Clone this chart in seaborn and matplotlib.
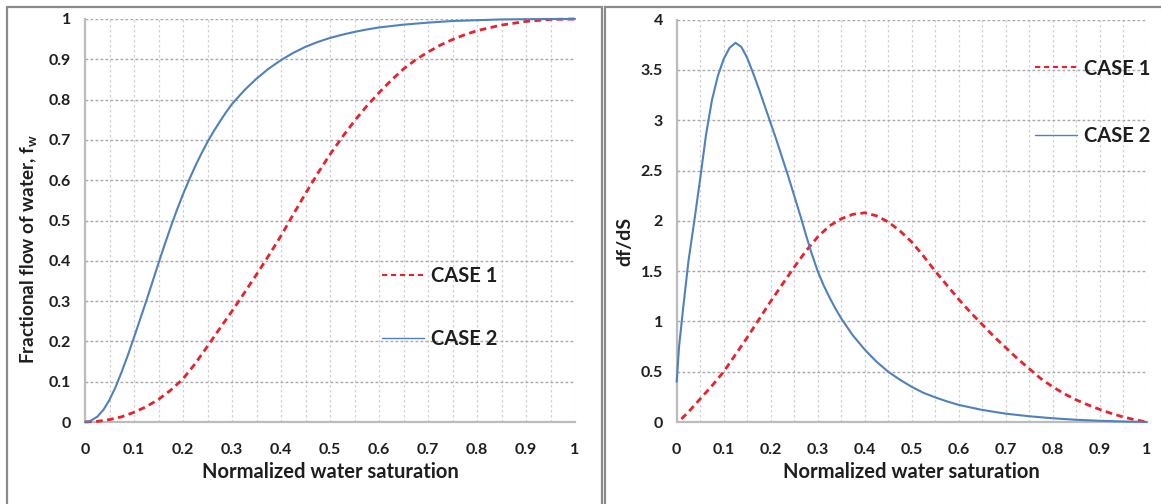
import numpy as np
import pandas as pd
import matplotlib
matplotlib.use("Agg")
import matplotlib.pyplot as plt
from matplotlib.lines import Line2D
import seaborn as sns

# ---------------- data ----------------
# Left panel: fractional flow of water, CASE 1
fw1_sw = [0, 0.025, 0.05, 0.075, 0.1, 0.125, 0.15, 0.175, 0.2, 0.225, 0.25, 0.275, 0.3,
          0.325, 0.35, 0.375, 0.4, 0.425, 0.45, 0.475, 0.5, 0.525, 0.55, 0.575, 0.6,
          0.625, 0.65, 0.675, 0.7, 0.725, 0.75, 0.775, 0.8, 0.85, 0.9, 0.95, 1.0]
fw1 = [0, 0.0015, 0.006, 0.013, 0.024, 0.038, 0.056, 0.079, 0.107, 0.145, 0.188, 0.232, 0.275,
       0.32, 0.366, 0.413, 0.462, 0.515, 0.567, 0.617, 0.664, 0.707, 0.747, 0.784, 0.817,
       0.848, 0.876, 0.899, 0.918, 0.935, 0.949, 0.961, 0.971, 0.985, 0.994, 0.999, 1.0]

# Left panel: fractional flow of water, CASE 2
fw2_sw = [0, 0.01, 0.025, 0.0375, 0.05, 0.0625, 0.075, 0.0875, 0.1, 0.1125, 0.125, 0.1375,
          0.15, 0.1625, 0.175, 0.1875, 0.2, 0.2125, 0.225, 0.2375, 0.25, 0.2625, 0.275,
          0.2875, 0.3, 0.325, 0.35, 0.375, 0.4, 0.425, 0.45, 0.475, 0.5, 0.525, 0.55, 0.575,
          0.6, 0.65, 0.7, 0.75, 0.8, 0.85, 0.9, 0.95, 1.0]
fw2 = [0, 0.002, 0.013, 0.03, 0.055, 0.087, 0.125, 0.166, 0.21, 0.255, 0.3, 0.347,
       0.394, 0.44, 0.484, 0.526, 0.565, 0.601, 0.635, 0.666, 0.695, 0.721, 0.745,
       0.768, 0.789, 0.823, 0.852, 0.877, 0.898, 0.916, 0.931, 0.943, 0.953, 0.961, 0.968, 0.974,
       0.979, 0.986, 0.991, 0.995, 0.997, 0.999, 0.9995, 1.0, 1.0]

# Right panel: df/dS, CASE 1
d1_sw = [0.01, 0.025, 0.05, 0.075, 0.1, 0.125, 0.15, 0.175, 0.2, 0.225, 0.25, 0.275, 0.3,
         0.325, 0.35, 0.375, 0.4, 0.425, 0.45, 0.475, 0.5, 0.525, 0.55, 0.575, 0.6, 0.625,
         0.65, 0.675, 0.7, 0.725, 0.75, 0.775, 0.8, 0.825, 0.85, 0.875, 0.9, 0.925, 0.95,
         0.975, 1.0]
d1 = [0.03, 0.1, 0.23, 0.36, 0.5, 0.67, 0.84, 1.02, 1.2, 1.37, 1.54, 1.7, 1.84,
      1.95, 2.02, 2.065, 2.08, 2.05, 1.99, 1.9, 1.79, 1.65, 1.5, 1.36, 1.22, 1.09,
      0.97, 0.85, 0.74, 0.63, 0.53, 0.43, 0.35, 0.28, 0.22, 0.17, 0.125, 0.085, 0.05,
      0.022, 0.0]

# Right panel: df/dS, CASE 2
d2_sw = [0, 0.005, 0.0125, 0.025, 0.0375, 0.05, 0.0625, 0.075, 0.0875, 0.1, 0.1125, 0.125,
         0.1375, 0.15, 0.1625, 0.175, 0.1875, 0.2, 0.2125, 0.225, 0.2375, 0.25, 0.2625,
         0.275, 0.2875, 0.3, 0.3125, 0.325, 0.3375, 0.35, 0.375, 0.4, 0.425, 0.45, 0.475,
         0.5, 0.525, 0.55, 0.575, 0.6, 0.65, 0.7, 0.75, 0.8, 0.85, 0.9, 0.95, 1.0]
d2 = [0.4, 0.75, 1.08, 1.6, 2.0, 2.42, 2.86, 3.2, 3.44, 3.61, 3.72, 3.77,
      3.73, 3.62, 3.47, 3.31, 3.14, 2.97, 2.8, 2.62, 2.44, 2.25, 2.06,
      1.86, 1.67, 1.5, 1.36, 1.24, 1.13, 1.03, 0.86, 0.72, 0.6, 0.5, 0.42,
      0.35, 0.29, 0.245, 0.205, 0.17, 0.12, 0.083, 0.057, 0.037, 0.022, 0.012, 0.005, 0.0]

series_labels = ["CASE 1", "CASE 2"]
x_ticks = [0, 0.1, 0.2, 0.3, 0.4, 0.5, 0.6, 0.7, 0.8, 0.9, 1]
x_ticklabels = ["0", "0.1", "0.2", "0.3", "0.4", "0.5", "0.6", "0.7", "0.8", "0.9", "1"]
y1_ticks = [0, 0.1, 0.2, 0.3, 0.4, 0.5, 0.6, 0.7, 0.8, 0.9, 1]
y1_ticklabels = ["0", "0.1", "0.2", "0.3", "0.4", "0.5", "0.6", "0.7", "0.8", "0.9", "1"]
y2_ticks = [0, 0.5, 1, 1.5, 2, 2.5, 3, 3.5, 4]
y2_ticklabels = ["0", "0.5", "1", "1.5", "2", "2.5", "3", "3.5", "4"]

# ---------------- style ----------------
sns.set_style("white")
plt.rcParams["font.family"] = ["Lato", "DejaVu Sans"]
plt.rcParams["font.weight"] = "bold"
plt.rcParams["mathtext.fontset"] = "custom"
plt.rcParams["mathtext.rm"] = "Lato:bold"
plt.rcParams["mathtext.it"] = "Lato:bold"
plt.rcParams["mathtext.bf"] = "Lato:bold"

RED = "#e8212b"
BLUE = "#4f81bd"
AXIS = "#bcbcbc"
GRID_H = "#a8a8a8"
GRID_V = "#d0d0d0"
TXT = "#1e1e1e"

W, H = 1161, 504
fig = plt.figure(figsize=(W / 100, H / 100), dpi=100)
fig.patch.set_facecolor("white")

# panel borders
border = dict(color="#8a8a8a", lw=1.6, transform=fig.transFigure, clip_on=False)
fig.add_artist(Line2D([7 / W, 602 / W], [1 - 6.5 / H] * 2, **border))
fig.add_artist(Line2D([7 / W, 7 / W], [0, 1 - 6.5 / H], **border))
fig.add_artist(Line2D([602 / W, 602 / W], [0, 1 - 6.5 / H], **border))
fig.add_artist(Line2D([605 / W, 1161 / W], [1 - 6.5 / H] * 2, **border))
fig.add_artist(Line2D([605 / W, 605 / W], [0, 1 - 6.5 / H], **border))

ax1 = fig.add_axes([85 / W, 82 / H, 490 / W, 403 / H])
ax2 = fig.add_axes([676.7 / W, 82 / H, 470 / W, 402.3 / H])

df_left1 = pd.DataFrame({"sw": fw1_sw, "v": fw1})
df_left2 = pd.DataFrame({"sw": fw2_sw, "v": fw2})
df_right1 = pd.DataFrame({"sw": d1_sw, "v": d1})
df_right2 = pd.DataFrame({"sw": d2_sw, "v": d2})

dash = (0, (2.4, 1.6))


def draw(ax, dfa, dfb):
    sns.lineplot(data=dfa, x="sw", y="v", ax=ax, color=RED, lw=2.0,
                 linestyle=dash, label=series_labels[0], clip_on=False, zorder=3)
    sns.lineplot(data=dfb, x="sw", y="v", ax=ax, color=BLUE, lw=1.5,
                 label=series_labels[1], clip_on=False, zorder=4)


draw(ax1, df_left1, df_left2)
draw(ax2, df_right1, df_right2)

for ax, yt, ytl, ymax in [(ax1, y1_ticks, y1_ticklabels, 1), (ax2, y2_ticks, y2_ticklabels, 4)]:
    ax.set_xlim(0, 1)
    ax.set_ylim(0, ymax)
    ax.set_xticks(x_ticks)
    ax.set_xticklabels(x_ticklabels)
    ax.set_xticks(np.arange(0, 1.001, 0.05), minor=True)
    ax.set_yticks(yt)
    ax.set_yticklabels(ytl)
    for s in ["top", "right"]:
        ax.spines[s].set_visible(False)
    for s in ["left", "bottom"]:
        ax.spines[s].set_color(AXIS)
        ax.spines[s].set_linewidth(1.6)
    ax.tick_params(axis="both", which="major", direction="out", length=5, width=1.2,
                   color=AXIS, labelsize=11.5, labelcolor=TXT)
    ax.tick_params(axis="x", which="major", pad=10)
    ax.tick_params(axis="y", which="major", pad=5)
    ax.tick_params(axis="x", which="minor", length=0)
    ax.grid(False)
    ax.grid(True, axis="x", which="both", color=GRID_V, linestyle=(0, (2, 2)), lw=0.9)
    ax.grid(True, axis="y", which="major", color=GRID_H, linestyle=(0, (2, 1.6)), lw=1.0)
    ax.set_axisbelow(True)
    for lab in ax.get_xticklabels() + ax.get_yticklabels():
        lab.set_fontweight("bold")
    ax.set_xlabel("Normalized water saturation", fontsize=14.5, fontweight="bold", color=TXT)
    ax.xaxis.set_label_coords(0.5, -0.1)

ax1.set_ylabel(r"Fractional flow of water, f$_{w}$", fontsize=13.6, fontweight="bold", color=TXT)
ax1.yaxis.set_label_coords(-0.093, 0.43)
ax2.set_ylabel("df/dS", fontsize=14.0, fontweight="bold", color=TXT)
ax2.yaxis.set_label_coords(-0.093, 0.449)

leg_kw = dict(frameon=False, fontsize=14.5, handlelength=2.1, handletextpad=0.35,
              borderpad=0, borderaxespad=0, loc="center left")
l1 = ax1.legend(bbox_to_anchor=(0.606, 0.284), labelspacing=2.15, **leg_kw)
l2 = ax2.legend(bbox_to_anchor=(0.762, 0.795), labelspacing=2.35, **leg_kw)
for lg in (l1, l2):
    for t in lg.get_texts():
        t.set_fontweight("bold")
        t.set_color(TXT)
    hs = lg.legend_handles
    hs[0].set_linewidth(1.5)
    hs[0].set_linestyle((0, (2.5, 1.8)))
    hs[1].set_linewidth(1.0)

fig.savefig("out.png", dpi=100, facecolor="white")
